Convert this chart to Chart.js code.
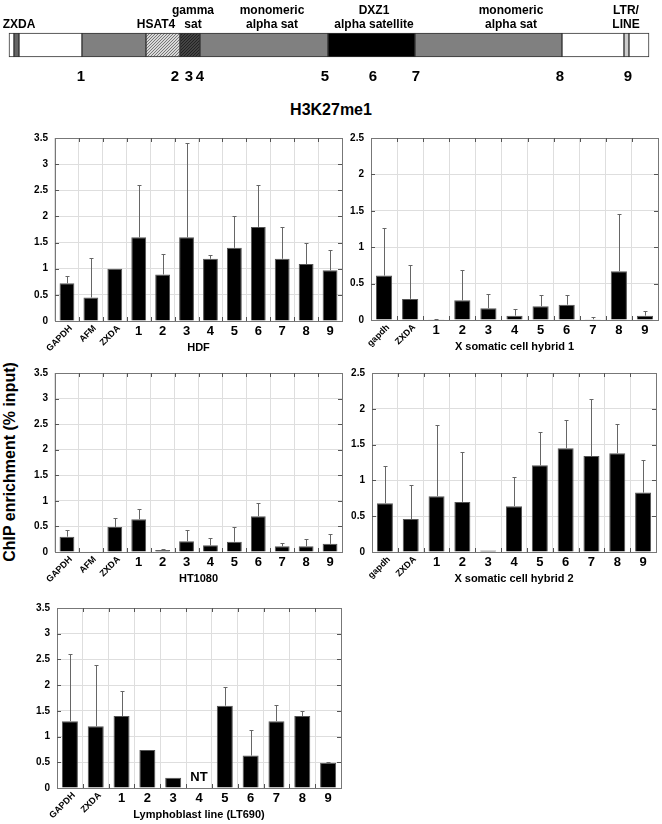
<!DOCTYPE html>
<html>
<head>
<meta charset="utf-8">
<script src="https://cdn.jsdelivr.net/npm/chart.js@4.4.1/dist/chart.umd.min.js"></script>
<style>
  html, body { margin:0; padding:0; background:#fff; }
  body { width:662px; height:824px; position:relative; overflow:hidden; font-family:"Liberation Sans", Arial, sans-serif; }
  canvas { position:absolute; }
  #title { position:absolute; left:0; width:662px; top:100px; text-align:center; font-weight:bold; font-size:16px; line-height:20px; }
  #ytitle { position:absolute; left:10px; top:462px; width:260px; margin-left:-130px; margin-top:-10px; text-align:center;
            font-weight:bold; font-size:16px; line-height:20px; transform:rotate(-90deg); white-space:nowrap; }
</style>
</head>
<body>
<canvas id="map" width="662" height="90" style="left:0;top:0"></canvas>
<div id="title">H3K27me1</div>
<div id="ytitle">ChIP enrichment (% input)</div>
<canvas id="p1" width="345" height="235" style="left:0;top:125px"></canvas>
<canvas id="p2" width="332" height="235" style="left:330px;top:125px"></canvas>
<canvas id="p3" width="345" height="230" style="left:0;top:360px"></canvas>
<canvas id="p4" width="332" height="230" style="left:330px;top:360px"></canvas>
<canvas id="p5" width="345" height="229" style="left:0;top:595px"></canvas>
<script>
// ---------- map data (positions along the schematic) ----------
const segStart = [9, 14, 19, 82, 146, 180, 200, 328, 415, 562, 624, 629];
const segEnd   = [14, 19, 82, 146, 180, 200, 328, 415, 562, 624, 629, 649];
const segKind  = ['blank','zxda','blank','mono','hsat4','gamma','mono','dxz1','mono','blank','ltr','blank'];
const markerNames = ['1','2','3','4','5','6','7','8','9'];
const markerPos   = [81, 175, 189, 200, 325, 373, 416, 560, 628];
const regionNames = [['ZXDA'], ['HSAT4'], ['gamma','sat'], ['monomeric','alpha sat'], ['DXZ1','alpha satellite'], ['monomeric','alpha sat'], ['LTR/','LINE']];
const regionPos   = [19, 156, 193, 272, 374, 511, 626];

// ---------- panel data ----------
const catsHDF   = ['GAPDH','AFM','ZXDA','1','2','3','4','5','6','7','8','9'];
const valsHDF   = [0.72, 0.45, 1.0, 1.6, 0.89, 1.6, 1.19, 1.4, 1.8, 1.19, 1.09, 0.97];
const errsHDF   = [0.15, 0.75, 0, 1.0, 0.4, 1.8, 0.08, 0.6, 0.8, 0.61, 0.41, 0.39];

const catsHyb1  = ['gapdh','ZXDA','1','2','3','4','5','6','7','8','9'];
const valsHyb1  = [0.61, 0.29, 0.01, 0.27, 0.16, 0.06, 0.19, 0.21, 0.01, 0.67, 0.06];
const errsHyb1  = [0.66, 0.47, 0.01, 0.41, 0.2, 0.09, 0.16, 0.14, 0.03, 0.79, 0.07];

const catsHT    = ['GAPDH','AFM','ZXDA','1','2','3','4','5','6','7','8','9'];
const valsHT    = [0.30, null, 0.49, 0.64, 0.04, 0.21, 0.13, 0.2, 0.7, 0.11, 0.11, 0.16];
const errsHT    = [0.13, 0, 0.17, 0.21, 0.01, 0.22, 0.15, 0.28, 0.26, 0.07, 0.15, 0.2];

const catsHyb2  = ['gapdh','ZXDA','1','2','3','4','5','6','7','8','9'];
const valsHyb2  = [0.68, 0.46, 0.78, 0.70, 0.02, 0.64, 1.21, 1.45, 1.34, 1.38, 0.83];
const errsHyb2  = [0.52, 0.48, 1.0, 0.69, 0, 0.41, 0.47, 0.39, 0.79, 0.41, 0.45];

const catsLym   = ['GAPDH','ZXDA','1','2','3','4','5','6','7','8','9'];
const valsLym   = [1.3, 1.2, 1.4, 0.74, 0.2, null, 1.6, 0.63, 1.3, 1.4, 0.49];
const errsLym   = [1.3, 1.2, 0.49, 0, 0, 0, 0.36, 0.49, 0.32, 0.1, 0.02];
const notesLym  = ['', '', '', '', '', 'NT', '', '', '', '', ''];

const yTicks35 = 3.5, yTicks25 = 2.5;
const FONT = '"Liberation Sans", Arial, sans-serif';

// ---------- map ----------
function hatch(bg, fg, size) {
  const c = document.createElement('canvas');
  c.width = size; c.height = size;
  const g = c.getContext('2d');
  g.fillStyle = bg; g.fillRect(0, 0, size, size);
  g.strokeStyle = fg; g.lineWidth = 1;
  g.beginPath();
  g.moveTo(0, size); g.lineTo(size, 0);
  g.moveTo(-1, 1); g.lineTo(1, -1);
  g.moveTo(size - 1, size + 1); g.lineTo(size + 1, size - 1);
  g.stroke();
  return g.createPattern(c, 'repeat');
}
const mctx = document.getElementById('map').getContext('2d');
const fills = {
  blank: '#ffffff', zxda: '#666666', mono: '#808080', dxz1: '#000000', ltr: '#cccccc',
  hsat4: hatch('#d8d8d8', '#777777', 3), gamma: hatch('#444444', '#222222', 3)
};

const mapLabels = {
  id: 'mapLabels',
  afterDraw(chart) {
    const ctx = chart.ctx, xs = chart.scales.x;
    ctx.save();
    ctx.fillStyle = '#000';
    ctx.textAlign = 'center';
    ctx.textBaseline = 'middle';
    ctx.font = 'bold 12px ' + FONT;
    regionNames.forEach((lines, i) => {
      const x = xs.getPixelForValue(regionPos[i]);
      if (lines.length === 1) ctx.fillText(lines[0], x, 25);
      else { ctx.fillText(lines[0], x, 11); ctx.fillText(lines[1], x, 25); }
    });
    ctx.font = 'bold 15px ' + FONT;
    markerNames.forEach((t, i) => ctx.fillText(t, xs.getPixelForValue(markerPos[i]), 77));
    ctx.restore();
  }
};

new Chart(mctx, {
  type: 'bar',
  data: {
    labels: ['map'],
    datasets: [{
      data: segStart.map((s, i) => ({ x: [s, segEnd[i]], y: 'map' })),
      backgroundColor: segKind.map(k => fills[k]),
      borderColor: '#333',
      borderWidth: 1,
      borderSkipped: false,
      barThickness: 24,
      grouped: false
    }]
  },
  options: {
    indexAxis: 'y', responsive: false, animation: false, devicePixelRatio: 1,
    layout: { padding: 0 },
    plugins: { legend: { display: false }, tooltip: { enabled: false } },
    scales: {
      x: { type: 'linear', min: 0, max: 662, display: false },
      y: { type: 'category', display: false }
    }
  },
  plugins: [mapLabels]
});

// ---------- panels ----------
const deco = {
  id: 'deco',
  afterDraw(chart, args, o) {
    const ctx = chart.ctx, ca = chart.chartArea;
    const xs = chart.scales.x, ys = chart.scales.y;
    const n = o.cats.length;
    const cw = (ca.right - ca.left) / n;
    ctx.save();
    // error bars
    ctx.strokeStyle = '#666'; ctx.lineWidth = 1;
    o.errs.forEach((e, i) => {
      const v = o.vals[i];
      if (v == null || !e) return;
      const x = Math.round(xs.getPixelForValue(i)) + 0.5;
      const y0 = ys.getPixelForValue(v), y1 = Math.round(ys.getPixelForValue(v + e)) + 0.5;
      ctx.beginPath();
      ctx.moveTo(x, y0); ctx.lineTo(x, y1);
      ctx.moveTo(x - 2, y1); ctx.lineTo(x + 2, y1);
      ctx.stroke();
    });
    // frame
    ctx.strokeStyle = '#777';
    ctx.strokeRect(Math.round(ca.left) + 0.5, Math.round(ca.top) + 0.5, Math.round(ca.right - ca.left), Math.round(ca.bottom - ca.top));
    // inside tick marks
    ctx.strokeStyle = '#555';
    ctx.beginPath();
    for (let i = 1; i < n; i++) {
      const x = Math.round(ca.left + i * cw) + 0.5;
      ctx.moveTo(x, ca.top); ctx.lineTo(x, ca.top + 4);
      ctx.moveTo(x, ca.bottom); ctx.lineTo(x, ca.bottom - 4);
    }
    for (let v = 0.5; v < o.ymax; v += 0.5) {
      const y = Math.round(ys.getPixelForValue(v)) + 0.5;
      ctx.moveTo(ca.left, y); ctx.lineTo(ca.left + 4, y);
      ctx.moveTo(ca.right, y); ctx.lineTo(ca.right - 4, y);
    }
    ctx.stroke();
    // x labels
    ctx.fillStyle = '#000';
    o.cats.forEach((c, i) => {
      const x = xs.getPixelForValue(i);
      if (/^\d+$/.test(c)) {
        ctx.font = 'bold 13px ' + FONT;
        ctx.textAlign = 'center'; ctx.textBaseline = 'middle';
        ctx.fillText(c, x, ca.bottom + 10);
      } else {
        ctx.save();
        ctx.font = 'bold 9px ' + FONT;
        ctx.translate(x + 4, ca.bottom + 6);
        ctx.rotate(-Math.PI / 4);
        ctx.textAlign = 'right'; ctx.textBaseline = 'middle';
        ctx.fillText(c, 0, 0);
        ctx.restore();
      }
      if (o.notes && o.notes[i]) {
        ctx.font = 'bold 13px ' + FONT;
        ctx.textAlign = 'center'; ctx.textBaseline = 'middle';
        ctx.fillText(o.notes[i], x, ys.getPixelForValue(0) - 11);
      }
    });
    // x title
    ctx.font = 'bold 11px ' + FONT;
    ctx.textAlign = 'center'; ctx.textBaseline = 'middle';
    ctx.fillText(o.title, (ca.left + ca.right) / 2, ca.bottom + 27);
    ctx.restore();
  }
};

function panel(id, cats, vals, errs, ymax, title, box, notes) {
  const el = document.getElementById(id);
  new Chart(el.getContext('2d'), {
    type: 'bar',
    data: {
      labels: cats,
      datasets: [{
        data: vals,
        backgroundColor: '#000',
        borderColor: '#555',
        borderWidth: 1,
        barPercentage: 0.62,
        categoryPercentage: 1.0
      }]
    },
    options: {
      responsive: false, animation: false, devicePixelRatio: 1,
      layout: { padding: { top: box.top, right: box.right, left: 0, bottom: 0 } },
      plugins: {
        legend: { display: false }, tooltip: { enabled: false },
        deco: { cats, vals, errs, ymax, title, notes }
      },
      scales: {
        x: {
          type: 'category',
          grid: { color: '#dedede', offset: true, drawTicks: false },
          border: { display: false },
          ticks: { display: false },
          afterFit(s) { s.height = box.bottom; }
        },
        y: {
          min: 0, max: ymax,
          grid: { color: '#dedede', drawTicks: false },
          border: { display: false },
          ticks: {
            stepSize: 0.5, color: '#000', padding: 7,
            font: { family: FONT, size: 10, weight: 'bold' },
            callback: v => String(Math.round(v * 10) / 10)
          },
          afterFit(s) { s.width = box.left; }
        }
      }
    },
    plugins: [deco]
  });
}

panel('p1', catsHDF, valsHDF, errsHDF, yTicks35, 'HDF', { top: 12, right: 3, left: 55, bottom: 39 });
panel('p2', catsHyb1, valsHyb1, errsHyb1, yTicks25, 'X somatic cell hybrid 1', { top: 11, right: 4, left: 41, bottom: 40 });
panel('p3', catsHT, valsHT, errsHT, yTicks35, 'HT1080', { top: 8, right: 3, left: 55, bottom: 38 });
panel('p4', catsHyb2, valsHyb2, errsHyb2, yTicks25, 'X somatic cell hybrid 2', { top: 7, right: 6, left: 42, bottom: 38 });
panel('p5', catsLym, valsLym, errsLym, yTicks35, 'Lymphoblast line (LT690)', { top: 8, right: 4, left: 57, bottom: 36 }, notesLym);
</script>
</body>
</html>
